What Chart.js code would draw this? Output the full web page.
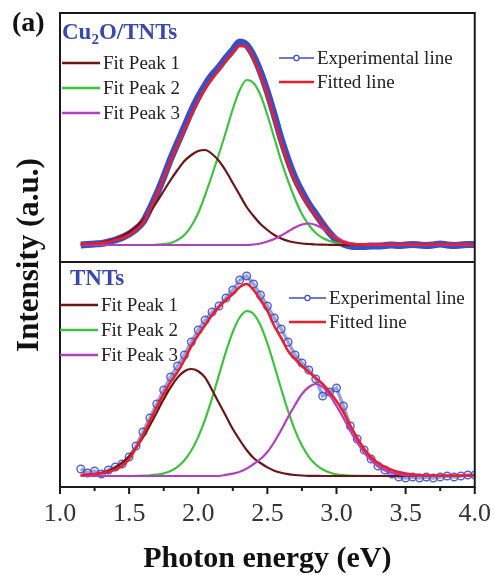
<!DOCTYPE html>
<html>
<head>
<meta charset="utf-8">
<script src="https://cdn.jsdelivr.net/npm/chart.js@4.4.0/dist/chart.umd.min.js"></script>
<style>
 html, body { margin: 0; padding: 0; background: #fff; }
</style>
</head>
<body>
<canvas id="absChart" width="494" height="575"></canvas>
<script>
// photon energy grid (eV)
var energy = [1.15, 1.2, 1.25, 1.3, 1.35, 1.4, 1.45, 1.5, 1.55, 1.6, 1.65, 1.7, 1.75, 1.8, 1.85, 1.9, 1.95, 2.0, 2.05, 2.1,
 2.15, 2.2, 2.25, 2.3, 2.35, 2.4, 2.45, 2.5, 2.55, 2.6, 2.65, 2.7, 2.75, 2.8, 2.85, 2.9, 2.95, 3.0, 3.05, 3.1,
 3.15, 3.2, 3.25, 3.3, 3.35, 3.4, 3.45, 3.5, 3.55, 3.6, 3.65, 3.7, 3.75, 3.8, 3.85, 3.9, 3.95, 4.0];

var xTickLabels = ["1.0", "1.5", "2.0", "2.5", "3.0", "3.5", "4.0"];

// ---- Cu2O/TNTs panel ----
var cuExperimental = [0, 0.5, 1, 1.5, 3, 5, 7.5, 11, 16, 23, 36, 51, 68, 86, 102, 118, 134, 148, 160, 170,
 178, 187, 195, 203, 200, 189, 173, 153, 130, 106, 85, 67, 53, 41, 31, 21, 12, 5, 1, -1,
 -1.5, -1.5, -1, -1, -0.5, 0, -0.5, 0, 0.5, 0, -0.5, 0, 1, 0, -0.5, 0, 0.5, 0.5];
var cuFitted = [1, 1, 1.5, 2, 3, 5, 7, 10, 15, 22, 35, 50, 67, 84, 100, 115, 130, 144, 156, 166,
 175, 184, 192, 199, 198, 186, 170, 150, 126, 102, 81, 64, 50, 39, 29, 20, 12, 6, 2.5, 1,
 0.5, 0.8, 0.8, 0.8, 0.8, 0.8, 0.8, 0.8, 0.8, 0.8, 0.8, 0.8, 0.8, 0.8, 0.8, 0.8, 0.8, 0.8];
var cuPeak1 = [0.5, 1, 1.5, 2.5, 4, 6, 9, 13, 18, 25, 33, 43, 54, 65, 75, 84, 90, 94, 95, 91,
 84, 74, 62, 50, 38, 29, 21, 15, 10, 6.5, 4, 2.5, 1.5, 1, 0.5, 0.3, 0.2, 0.1, 0, 0,
 0, 0, 0, 0, 0, 0, 0, 0, 0, 0, 0, 0, 0, 0, 0, 0, 0, 0];
var cuPeak2 = [0, 0, 0, 0, 0, 0, 0, 0, 0, 0, 0, 0.3, 0.8, 2, 5, 10, 19, 32, 50, 70,
 91, 113, 136, 155, 165, 162, 150, 130, 107, 84, 64, 46, 31, 20, 12, 7, 4, 2, 1, 0.5,
 0.2, 0, 0, 0, 0, 0, 0, 0, 0, 0, 0, 0, 0, 0, 0, 0, 0, 0];
var cuPeak3 = [0, 0, 0, 0, 0, 0, 0, 0, 0, 0, 0, 0, 0, 0, 0, 0, 0, 0, 0, 0,
 0, 0, 0, 0, 0, 0.5, 1.5, 3.5, 6, 9.5, 13.5, 17.5, 20.5, 21.5, 20, 16.5, 12, 7.5, 4, 2,
 1, 0.5, 0, 0, 0, 0, 0, 0, 0, 0, 0, 0, 0, 0, 0, 0, 0, 0];

// ---- TNTs panel ----
var tnExperimental = [7, 3, 5, 2, 6, 9, 12, 19, 30, 44, 58, 72, 86, 99, 110, 121, 134, 146, 156, 164,
 170, 178, 186, 196, 200, 192, 181, 170, 158, 147, 134, 121, 113, 106, 97, 80, 84, 88, 70, 50,
 37, 26, 17, 10, 6, 2, -1, -2, -1, -2, -1, -2, -1, 0, -1, 0, 1, 1];
var tnFitted = [1, 1.5, 2, 3, 4, 6.5, 10, 17, 28, 41, 55, 69, 82, 94, 104, 116, 130, 141, 151, 161,
 169, 176, 182, 189, 192, 186, 176, 165, 150, 138, 125, 117, 110, 104, 98, 92, 84, 75, 64, 50,
 38, 27, 19, 13, 9, 6, 4, 2.5, 1.5, 1, 0.5, 0.5, 0.5, 0.5, 0.5, 0.5, 0.5, 0.5];
var tnPeak1 = [0.5, 1, 1.8, 3.2, 5.3, 8.6, 13.3, 19.8, 28.2, 38.5, 50.5, 63.6, 76.7, 88.7, 98.4, 104.8, 107, 104.8, 98.4, 86,
 73, 60, 47, 36, 26, 18, 13, 8.6, 5.3, 3.2, 1.8, 1, 0.5, 0.2, 0.1, 0, 0, 0, 0, 0,
 0, 0, 0, 0, 0, 0, 0, 0, 0, 0, 0, 0, 0, 0, 0, 0, 0, 0];
var tnPeak2 = [0, 0, 0, 0, 0, 0, 0, 0, 0.1, 0.3, 0.6, 1.3, 2.6, 5.1, 9.2, 15.7, 25.5, 39.1, 56.7, 77.9,
 101.1, 124.2, 144.2, 158.5, 164.8, 162.1, 150.8, 132.7, 110.5, 87, 64.8, 45.7, 30.4, 19.2, 11.5, 6.5, 3.5, 1.7, 0.8, 0.4,
 0.2, 0.1, 0, 0, 0, 0, 0, 0, 0, 0, 0, 0, 0, 0, 0, 0, 0, 0];
var tnPeak3 = [0, 0, 0, 0, 0, 0, 0, 0, 0, 0, 0, 0, 0, 0, 0, 0, 0, 0, 0, 0,
 0, 1.2, 2.4, 4.3, 7.4, 12, 17, 24, 34, 46, 59, 71, 82, 89, 92, 89, 81, 70, 58, 45,
 33.5, 23.5, 15.7, 9.9, 6, 3.4, 1.8, 0.9, 0.5, 0.2, 0.1, 0, 0, 0, 0, 0, 0, 0];

var colors = {
 peak1: "#6e1416",
 peak2: "#3fc23f",
 peak3: "#b23fc2",
 fitted: "#e8202c",
 experimental: "#3d4ec4",
 label: "#3a48ae",
};

var serif = "'Liberation Serif', 'Times New Roman', serif";

function toPoints(ys) {
 return energy.map(function (x, i) {
  return { x: x, y: ys[i] };
 });
}

function fitLine(values, color, axis) {
 return {
  data: toPoints(values),
  yAxisID: axis,
  borderColor: color,
  borderWidth: 2.2,
  pointRadius: 0,
  cubicInterpolationMode: "monotone",
 };
}

var datasets = [
 // top panel
 { data: toPoints(cuFitted), yAxisID: "yTop", borderColor: colors.fitted, borderWidth: 2.6, pointRadius: 0, cubicInterpolationMode: "monotone" },
 fitLine(cuPeak3, colors.peak3, "yTop"),
 fitLine(cuPeak1, colors.peak1, "yTop"),
 fitLine(cuPeak2, colors.peak2, "yTop"),
 { data: toPoints(cuExperimental), yAxisID: "yTop", borderColor: colors.experimental, borderWidth: 7, pointRadius: 0, cubicInterpolationMode: "monotone" },
 // bottom panel
 { data: toPoints(tnFitted), yAxisID: "yBot", borderColor: colors.fitted, borderWidth: 2.6, pointRadius: 0, cubicInterpolationMode: "monotone" },
 fitLine(tnPeak3, colors.peak3, "yBot"),
 fitLine(tnPeak1, colors.peak1, "yBot"),
 fitLine(tnPeak2, colors.peak2, "yBot"),
 {
  data: toPoints(tnExperimental),
  yAxisID: "yBot",
  borderColor: "rgba(70,86,200,0.55)",
  borderWidth: 3.5,
  pointRadius: 3.8,
  pointBorderWidth: 1.4,
  pointBorderColor: "rgba(66,82,198,0.9)",
  pointBackgroundColor: "rgba(255,255,255,0)",
 },
];

function drawLegendRow(ctx, x1, x2, y, color, text, withMarker) {
 ctx.strokeStyle = color;
 ctx.lineWidth = withMarker ? 1.5 : 2.5;
 ctx.beginPath();
 ctx.moveTo(x1, y);
 ctx.lineTo(x2, y);
 ctx.stroke();
 if (withMarker) {
  ctx.fillStyle = "#fff";
  ctx.lineWidth = 1.2;
  ctx.beginPath();
  ctx.arc((x1 + x2) / 2, y, 2.6, 0, Math.PI * 2);
  ctx.fill();
  ctx.stroke();
 }
 ctx.fillStyle = "#222";
 ctx.font = "19px " + serif;
 ctx.textAlign = "left";
 ctx.textBaseline = "middle";
 ctx.fillText(text, x2 + 3, y + 1);
}

var decorPlugin = {
 id: "decor",
 afterDraw: function (chart) {
  var ctx = chart.ctx;
  var area = chart.chartArea;
  var xScale = chart.scales.x;
  var split = chart.scales.yTop.bottom;
  ctx.save();

  // frame and panel divider
  ctx.strokeStyle = "#1a1a1a";
  ctx.lineWidth = 2;
  ctx.strokeRect(area.left, area.top, area.right - area.left, area.bottom - area.top);
  ctx.beginPath();
  ctx.moveTo(area.left, split);
  ctx.lineTo(area.right, split);
  ctx.stroke();

  // ticks on bottom axis, long at labelled values
  xScale.ticks.forEach(function (t) {
   var px = xScale.getPixelForValue(t.value);
   var len = Math.abs(t.value * 2 - Math.round(t.value * 2)) < 1e-6 ? 7 : 4;
   ctx.beginPath();
   ctx.moveTo(px, area.bottom);
   ctx.lineTo(px, area.bottom + len);
   ctx.stroke();
  });

  // y title
  ctx.save();
  ctx.translate(38, 255);
  ctx.rotate(-Math.PI / 2);
  ctx.fillStyle = "#111";
  ctx.font = "bold 31px " + serif;
  ctx.textAlign = "center";
  ctx.textBaseline = "alphabetic";
  ctx.fillText("Intensity (a.u.)", 0, 0);
  ctx.restore();

  // panel letter
  ctx.fillStyle = "#111";
  ctx.font = "bold 28px " + serif;
  ctx.textAlign = "left";
  ctx.textBaseline = "alphabetic";
  ctx.fillText("(a)", 12, 31);

  // sample names
  ctx.fillStyle = colors.label;
  ctx.font = "bold 23px " + serif;
  ctx.fillText("Cu", 62, 39);
  var w = ctx.measureText("Cu").width;
  ctx.font = "bold 15px " + serif;
  ctx.fillText("2", 62 + w, 44);
  var w2 = ctx.measureText("2").width;
  ctx.font = "bold 23px " + serif;
  ctx.fillText("O/TNTs", 62 + w + w2, 39);
  ctx.fillText("TNTs", 70, 285);

  // legends, top panel
  drawLegendRow(ctx, 62, 100, 63, colors.peak1, "Fit Peak 1");
  drawLegendRow(ctx, 62, 100, 88, colors.peak2, "Fit Peak 2");
  drawLegendRow(ctx, 62, 100, 113, colors.peak3, "Fit Peak 3");
  drawLegendRow(ctx, 279, 314, 58, colors.experimental, "Experimental line", true);
  drawLegendRow(ctx, 279, 314, 82, colors.fitted, "Fitted line");

  // legends, bottom panel
  drawLegendRow(ctx, 60, 98, 305, colors.peak1, "Fit Peak 1");
  drawLegendRow(ctx, 60, 98, 330, colors.peak2, "Fit Peak 2");
  drawLegendRow(ctx, 60, 98, 355, colors.peak3, "Fit Peak 3");
  drawLegendRow(ctx, 289, 326, 298, colors.experimental, "Experimental line", true);
  drawLegendRow(ctx, 289, 326, 322, colors.fitted, "Fitted line");

  ctx.restore();
 },
};

new Chart(document.getElementById("absChart"), {
 type: "line",
 data: { datasets: datasets },
 options: {
  responsive: false,
  animation: false,
  devicePixelRatio: 1,
  layout: { padding: { left: 60, right: 19, top: 13, bottom: 1 } },
  plugins: { legend: { display: false }, tooltip: { enabled: false } },
  scales: {
   x: {
    type: "linear",
    position: "bottom",
    min: 1,
    max: 4,
    grid: { display: true, drawOnChartArea: false, drawTicks: true, tickLength: 7, tickColor: "rgba(0,0,0,0)" },
    border: { display: false },
    ticks: {
     stepSize: 0.25,
     autoSkip: false,
     maxRotation: 0,
     padding: 3,
     color: "#333",
     font: { family: serif, size: 26, lineHeight: 1.3077 },
     callback: function (value) {
      var label = value.toFixed(1);
      return xTickLabels.indexOf(label) >= 0 && Math.abs(value * 2 - Math.round(value * 2)) < 1e-6 ? label : "";
     },
    },
    title: {
     display: true,
     text: "Photon energy (eV)",
     color: "#111",
     font: { family: serif, size: 30, weight: "bold", lineHeight: 1 },
     padding: { top: 10, bottom: 0 },
    },
   },
   yTop: {
    type: "linear",
    position: "left",
    stack: "panels",
    stackWeight: 249,
    weight: 2,
    min: -17,
    max: 232,
    ticks: { display: false },
    grid: { display: false, drawTicks: false },
    border: { display: false },
   },
   yBot: {
    type: "linear",
    position: "left",
    stack: "panels",
    stackWeight: 225,
    weight: 1,
    min: -11,
    max: 214,
    ticks: { display: false },
    grid: { display: false, drawTicks: false },
    border: { display: false },
   },
  },
 },
 plugins: [decorPlugin],
});
</script>
</body>
</html>
